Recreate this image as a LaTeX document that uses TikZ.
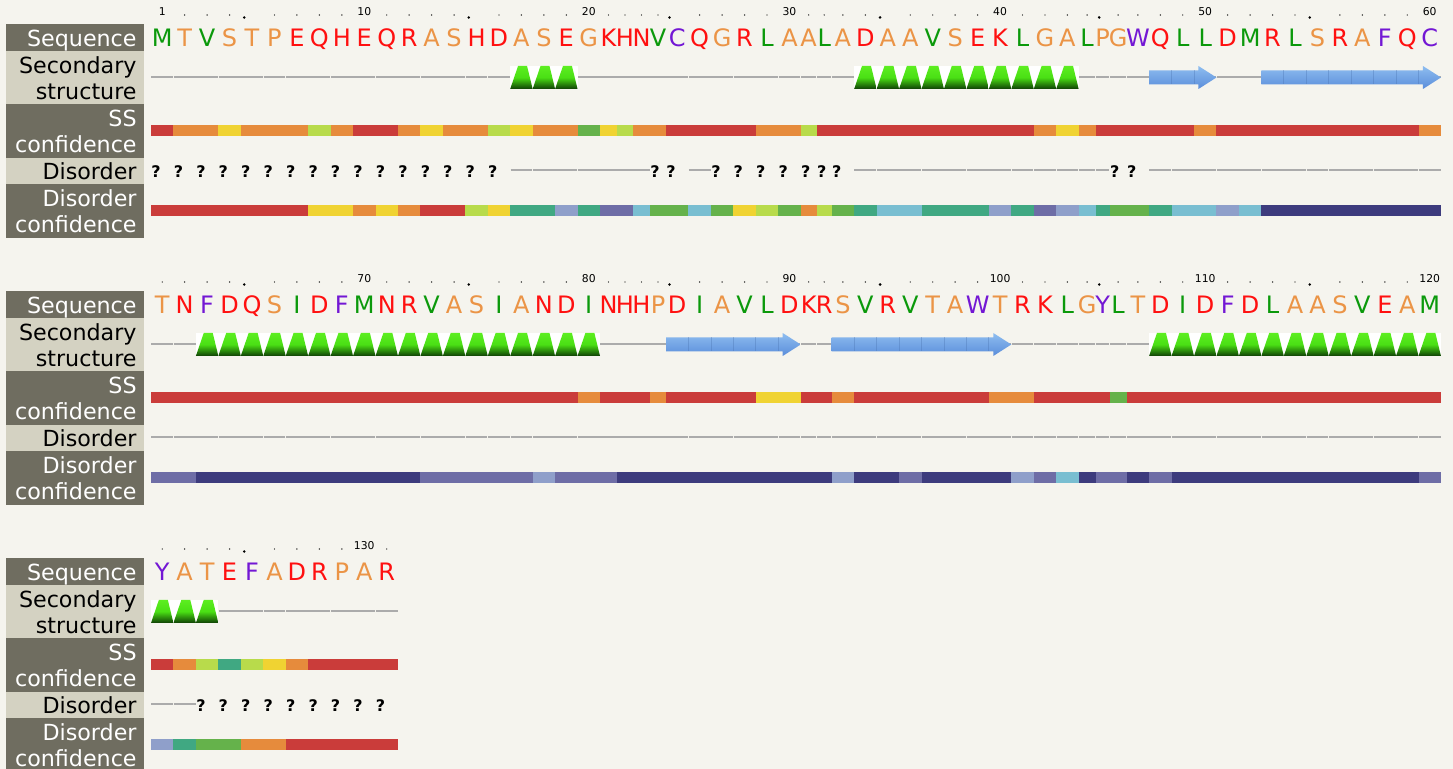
\documentclass[tikz,border=0pt]{standalone}
\usepackage{fontspec}
\setmainfont{DejaVu Sans}

\definecolor{bgpage}{HTML}{F5F4EE}
\definecolor{labdark}{HTML}{6F6D60}
\definecolor{lablight}{HTML}{D4D2C2}
\definecolor{resred}{HTML}{FF1010}
\definecolor{resorange}{HTML}{EB9446}
\definecolor{resgreen}{HTML}{0B990B}
\definecolor{respurple}{HTML}{7317D4}
\colorlet{aaD}{resred}\colorlet{aaE}{resred}\colorlet{aaH}{resred}\colorlet{aaK}{resred}
\colorlet{aaN}{resred}\colorlet{aaQ}{resred}\colorlet{aaR}{resred}
\colorlet{aaA}{resorange}\colorlet{aaG}{resorange}\colorlet{aaP}{resorange}
\colorlet{aaS}{resorange}\colorlet{aaT}{resorange}
\colorlet{aaI}{resgreen}\colorlet{aaL}{resgreen}\colorlet{aaM}{resgreen}\colorlet{aaV}{resgreen}
\colorlet{aaC}{respurple}\colorlet{aaF}{respurple}\colorlet{aaW}{respurple}\colorlet{aaY}{respurple}
\definecolor{conf9}{HTML}{CA3C3A}
\definecolor{conf8}{HTML}{E68B3C}
\definecolor{conf7}{HTML}{F0D332}
\definecolor{conf6}{HTML}{B8DB4B}
\definecolor{conf5}{HTML}{65B24B}
\definecolor{conf4}{HTML}{40A882}
\definecolor{conf3}{HTML}{79BED1}
\definecolor{conf2}{HTML}{8F9FCA}
\definecolor{conf1}{HTML}{6E6DA6}
\definecolor{conf0}{HTML}{3D3B7D}
\definecolor{helixtop}{HTML}{5CEE20}
\definecolor{helixmid}{HTML}{4ADF14}
\definecolor{helixbot}{HTML}{0F3F05}
\definecolor{strandtop}{HTML}{8EBDF0}
\definecolor{strandbot}{HTML}{5A8DDA}

% left edges of the 60 columns (+ right edge of the last)
\def\colL{{151,173.45,195.9,218.35,240.8,263.25,285.7,308.15,330.6,353.05,375.5,397.95,420.4,442.85,465.3,487.75,510.2,532.65,555.1,577.55,600,617,633,650,666,688.45,710.9,733.35,755.8,778.25,800.7,816.7,831.7,854.15,876.6,899.05,921.5,943.95,966.4,988.85,1011.3,1033.75,1056.2,1078.65,1095.65,1109.65,1126.65,1149.1,1171.55,1194,1216.45,1238.9,1261.35,1283.8,1306.25,1328.7,1351.15,1373.6,1396.05,1418.5,1440.95}}

% residue / SS confidence / disorder confidence / disordered
\def\blockA{M/9/9/1, T/8/9/1, V/8/9/1, S/7/9/1, T/8/9/1, P/8/9/1, E/8/9/1, Q/6/7/1, H/8/7/1, E/9/8/1,
Q/9/7/1, R/8/8/1, A/7/9/1, S/8/9/1, H/8/6/1, D/6/7/1, A/7/4/0, S/8/4/0, E/8/2/0, G/5/4/0,
K/7/1/0, H/6/1/0, N/8/3/0, V/8/5/1, C/9/5/1, Q/9/3/0, G/9/5/1, R/9/7/1, L/8/6/1, A/8/5/1,
A/6/8/1, L/9/6/1, A/9/5/1, D/9/4/0, A/9/3/0, A/9/3/0, V/9/4/0, S/9/4/0, E/9/4/0, K/9/2/0,
L/9/4/0, G/8/1/0, A/7/2/0, L/8/3/0, P/9/4/0, G/9/5/1, W/9/5/1, Q/9/4/0, L/9/3/0, L/8/3/0,
D/9/2/0, M/9/3/0, R/9/0/0, L/9/0/0, S/9/0/0, R/9/0/0, A/9/0/0, F/9/0/0, Q/9/0/0, C/8/0/0}
\def\blockB{T/9/1/0, N/9/1/0, F/9/0/0, D/9/0/0, Q/9/0/0, S/9/0/0, I/9/0/0, D/9/0/0, F/9/0/0, M/9/0/0,
N/9/0/0, R/9/0/0, V/9/1/0, A/9/1/0, S/9/1/0, I/9/1/0, A/9/1/0, N/9/2/0, D/9/1/0, I/8/1/0,
N/9/1/0, H/9/0/0, H/9/0/0, P/8/0/0, D/9/0/0, I/9/0/0, A/9/0/0, V/9/0/0, L/7/0/0, D/7/0/0,
K/9/0/0, R/9/0/0, S/8/2/0, V/9/0/0, R/9/0/0, V/9/1/0, T/9/0/0, A/9/0/0, W/9/0/0, T/8/0/0,
R/8/2/0, K/9/1/0, L/9/3/0, G/9/0/0, Y/9/1/0, L/5/1/0, T/9/0/0, D/9/1/0, I/9/0/0, D/9/0/0,
F/9/0/0, D/9/0/0, L/9/0/0, A/9/0/0, A/9/0/0, S/9/0/0, V/9/0/0, E/9/0/0, A/9/0/0, M/9/1/0}
\def\blockC{Y/9/2/0, A/8/4/0, T/6/5/1, E/4/5/1, F/6/8/1, A/7/8/1, D/8/9/1, R/9/9/1, P/9/9/1, A/9/9/1, R/9/9/1}
% h = helix, e = strand (first/last column)
\def\ssA{h/17/19, h/34/43, e/48/50, e/53/60}
\def\ssB{h/3/20, e/25/30, e/33/40, h/48/60}
\def\ssC{h/1/3}

\newcommand{\drawblock}[4]{%
\begin{scope}[shift={(0,#1)}]
  \fill[labdark] (6,24) rectangle (144,51);
  \fill[lablight] (6,51) rectangle (144,104);
  \fill[labdark] (6,104) rectangle (144,158);
  \fill[lablight] (6,158) rectangle (144,184);
  \fill[labdark] (6,184) rectangle (144,238);
  \node[lab, text=white] (seq#2) at (137,30) {Sequence};
  \node[lab] (sec#2) at (137,56) {Secondary\\structure};
  \node[lab, text=white] (ssc#2) at (137,110) {SS\\confidence};
  \node[lab] (dis#2) at (137,162) {Disorder};
  \node[lab, text=white] (dsc#2) at (137,189) {Disorder\\confidence};
  \foreach \res/\sc/\dc/\qm [count=\ci] in #3 {
    \pgfmathsetmacro\xl{\colL[\ci-1]}
    \pgfmathsetmacro\xr{\colL[\ci]}
    \pgfmathsetmacro\xm{(\xl+\xr)/2}
    \pgfmathtruncatemacro\rn{#2+\ci}
    \pgfmathtruncatemacro\tk{ifthenelse(mod(\rn,10)==0,2,ifthenelse(\rn==1,2,ifthenelse(mod(\rn,5)==0,1,0)))}
    \ifcase\tk
      \fill (\xm,15) circle[radius=0.35pt];
    \or
      \fill (\xl+3.5,17.5) circle[radius=0.7pt];
    \or
      \node[ticknum] (t\rn) at (\xm,16) {\rn};
    \fi
    \node[res, text=aa\res] (r\rn) at (\xm,47) {\res};
    \draw[coil] (\xl+0.3,77) -- (\xr-0.3,77);
    \fill[conf\sc] (\xl,125) rectangle (\xr+0.3,136);
    \ifnum\qm=1
      \node[qmark] (q\rn) at (\xl+5,177.5) {?};
    \else
      \draw[coil] (\xl+0.3,170) -- (\xr-0.3,170);
    \fi
    \fill[conf\dc] (\xl,205) rectangle (\xr+0.3,216);
  }
  \foreach \kind/\ha/\hb in #4 {
    \if h\kind
      \foreach \cc in {\ha,...,\hb} {
        \pgfmathsetmacro\xl{\colL[\cc-1]}
        \pgfmathsetmacro\xr{\colL[\cc]}
        \fill[white] (\xl,66) rectangle (\xr,89);
        \shade[helix] (\xl,89) -- ({\xl+0.35*(\xr-\xl)},66) -- ({\xr-0.25*(\xr-\xl)},66) -- (\xr,89) -- cycle;
      }
    \else
      \pgfmathsetmacro\xa{\colL[\ha-1]}
      \pgfmathsetmacro\xb{\colL[\hb]}
      \shade[strand] (\xa,70.5) -- (\xb-18,70.5) -- (\xb-18,66) -- (\xb,77.5) -- (\xb-18,89) -- (\xb-18,84.5) -- (\xa,84.5) -- cycle;
      \foreach \cc in {\ha,...,\hb} {
        \pgfmathsetmacro\xs{\colL[\cc]}
        \ifdim\xs pt<\dimexpr\xb pt-18pt\relax \draw[strandsep] (\xs,70.5) -- (\xs,84.5); \fi
      }
    \fi
  }
\end{scope}}

\begin{document}
\begin{tikzpicture}[x=0.5pt, y=-0.5pt,
    lab/.style = {font=\fontsize{11.1}{13}\selectfont, anchor=north east, align=right, inner sep=0pt},
    res/.style = {font=\fontsize{12}{14}\selectfont, anchor=base, inner sep=0pt},
    ticknum/.style = {font=\fontsize{5.4}{6}\selectfont, anchor=base, inner sep=0pt},
    qmark/.style = {font=\fontsize{8}{9}\selectfont\bfseries, anchor=base, inner sep=0pt},
    coil/.style = {draw=black!33, line width=0.75pt},
    helix/.style = {top color=helixtop, bottom color=helixbot, middle color=helixmid},
    strand/.style = {top color=strandtop, bottom color=strandbot},
    strandsep/.style = {draw=strandbot!80!black, opacity=0.35, line width=0.4pt}]
    \path[fill=bgpage, use as bounding box] (0,0) rectangle (1453,769);
    %Blocks of 60 residues
    \drawblock{0}{0}{\blockA}{\ssA}
    \drawblock{267}{60}{\blockB}{\ssB}
    \drawblock{534}{120}{\blockC}{\ssC}
\end{tikzpicture}
\end{document}
